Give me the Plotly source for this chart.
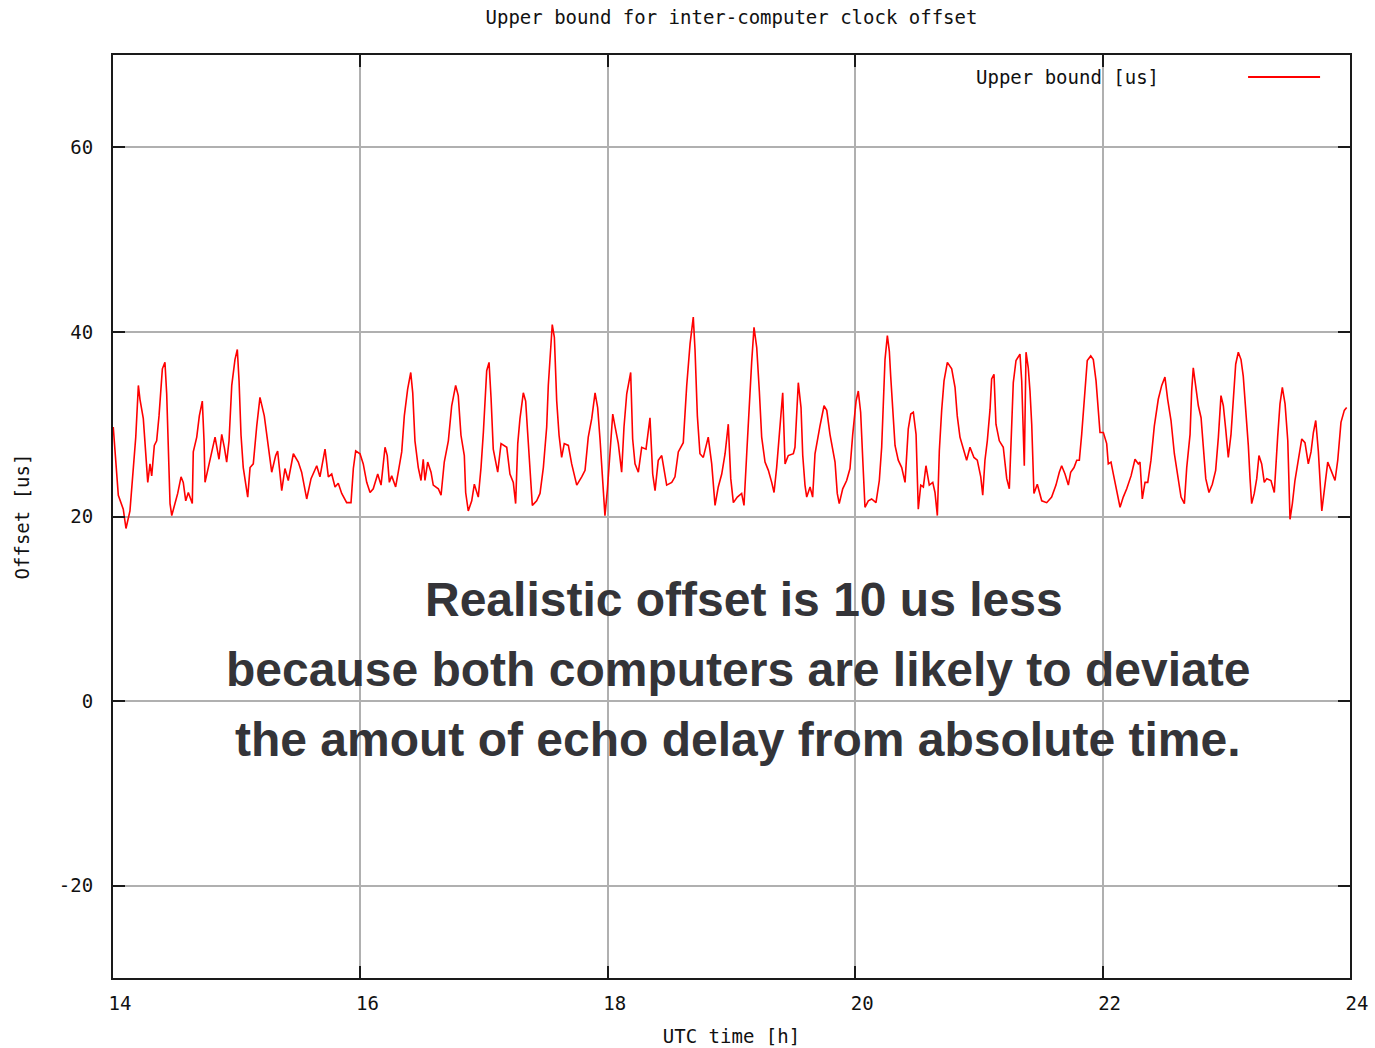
import plotly.graph_objects as go

# UTC time [h] and upper bound [us]
hours = [
    14.002, 14.030, 14.043, 14.083, 14.105, 14.137, 14.164, 14.184, 14.205, 14.218,
    14.245, 14.259, 14.281, 14.299, 14.313, 14.334, 14.353, 14.372, 14.399, 14.420,
    14.434, 14.461, 14.475, 14.501, 14.523, 14.550, 14.568, 14.588, 14.609, 14.641,
    14.649, 14.677, 14.698, 14.722, 14.736, 14.744, 14.770, 14.792, 14.825, 14.857,
    14.879, 14.900, 14.919, 14.938, 14.960, 14.986, 15.005, 15.019, 15.035, 15.053,
    15.073, 15.089, 15.108, 15.134, 15.162, 15.188, 15.223, 15.251, 15.283, 15.315,
    15.331, 15.364, 15.390, 15.417, 15.458, 15.498, 15.525, 15.566, 15.601, 15.647,
    15.673, 15.714, 15.741, 15.768, 15.795, 15.821, 15.849, 15.889, 15.924, 15.943,
    15.962,
    15.997, 16.023, 16.051, 16.078, 16.104, 16.140, 16.167, 16.199, 16.217, 16.234,
    16.253, 16.285, 16.306, 16.334, 16.355, 16.382, 16.407, 16.423, 16.441, 16.468,
    16.490, 16.508, 16.522, 16.544, 16.571, 16.589, 16.630, 16.652, 16.678, 16.711,
    16.738, 16.770, 16.791, 16.813, 16.840, 16.851, 16.872, 16.900, 16.921, 16.953,
    16.975, 16.994, 17.021, 17.040, 17.056, 17.074, 17.110, 17.137, 17.183, 17.209,
    17.236, 17.255, 17.272, 17.290, 17.317, 17.336, 17.352, 17.371, 17.390, 17.425,
    17.452, 17.479, 17.506, 17.519, 17.541, 17.551, 17.568, 17.587, 17.606, 17.627,
    17.648, 17.681, 17.708, 17.749, 17.789, 17.816, 17.842, 17.870, 17.897, 17.918,
    17.937, 17.959, 17.977, 17.996, 18.018, 18.040, 18.058, 18.085, 18.112, 18.131,
    18.153, 18.185, 18.201, 18.220, 18.247, 18.274, 18.309, 18.341, 18.363, 18.382,
    18.408, 18.436, 18.476, 18.517, 18.543, 18.570, 18.610, 18.638, 18.665, 18.691,
    18.705, 18.724, 18.745, 18.772, 18.812, 18.840, 18.867, 18.893, 18.921, 18.948,
    18.974, 18.994, 19.015, 19.047, 19.082, 19.101, 19.123, 19.141, 19.163, 19.182,
    19.204, 19.225, 19.244, 19.271, 19.298, 19.325, 19.344, 19.365, 19.392, 19.414,
    19.433, 19.459, 19.500, 19.513, 19.540, 19.562, 19.576, 19.594, 19.608, 19.635,
    19.656, 19.675, 19.715, 19.748, 19.770, 19.796, 19.837, 19.855, 19.871, 19.899,
    19.931,
    19.958, 19.980, 20.007, 20.025, 20.044, 20.061, 20.079, 20.106, 20.133, 20.168,
    20.195, 20.214, 20.227, 20.241, 20.260, 20.276, 20.287, 20.303, 20.322, 20.348,
    20.376, 20.403, 20.429, 20.449, 20.470, 20.492, 20.510, 20.530, 20.551, 20.572,
    20.599, 20.627, 20.645, 20.664, 20.680, 20.699, 20.718, 20.745, 20.780, 20.807,
    20.825, 20.847, 20.874, 20.901, 20.928, 20.960, 20.987, 21.015, 21.031, 21.049,
    21.068, 21.090, 21.103, 21.122, 21.138, 21.165, 21.197, 21.225, 21.246, 21.265,
    21.278, 21.300, 21.332, 21.346, 21.359, 21.367, 21.381, 21.399, 21.413, 21.427,
    21.445, 21.472, 21.508, 21.548, 21.588, 21.623, 21.650, 21.669, 21.696, 21.723,
    21.742, 21.769, 21.791, 21.812, 21.831, 21.858, 21.876, 21.904, 21.925, 21.947,
    21.979, 22.006, 22.033, 22.046, 22.068, 22.087, 22.114, 22.141, 22.167, 22.195,
    22.230, 22.262, 22.289, 22.302, 22.321, 22.343, 22.365, 22.391, 22.418, 22.450,
    22.478, 22.504, 22.526, 22.553, 22.580, 22.612, 22.634, 22.661, 22.680, 22.707,
    22.720, 22.733, 22.753, 22.774, 22.796, 22.814, 22.834, 22.860, 22.887, 22.914,
    22.936, 22.957, 22.976, 22.995, 23.016, 23.038, 23.057, 23.076, 23.097, 23.119,
    23.137, 23.157, 23.178, 23.192, 23.205, 23.226, 23.246, 23.264, 23.286, 23.307,
    23.327, 23.361, 23.388, 23.415, 23.434, 23.453, 23.475, 23.497, 23.507, 23.515,
    23.534, 23.555, 23.582, 23.610, 23.636, 23.663, 23.685, 23.704, 23.723, 23.744,
    23.772, 23.793, 23.820, 23.847, 23.879, 23.901, 23.927, 23.954, 23.973,
]

upper_bound = [
    29.7, 25.3, 22.3, 20.8, 18.7, 20.6, 25.2, 28.6, 34.2, 32.7,
    30.6, 27.9, 23.7, 25.7, 24.4, 27.7, 28.2, 30.9, 36.0, 36.7,
    33.3, 21.4, 20.1, 21.4, 22.5, 24.3, 23.7, 21.7, 22.6, 21.4,
    27.0, 28.6, 30.9, 32.5, 28.2, 23.7, 25.3, 26.8, 28.6, 26.2,
    28.9, 27.5, 25.9, 28.2, 34.2, 37.0, 38.1, 34.7, 28.8, 25.3,
    23.4, 22.1, 25.3, 25.7, 29.8, 32.9, 30.9, 27.9, 24.8, 26.6,
    27.1, 22.8, 25.2, 23.9, 26.8, 25.9, 24.8, 21.9, 24.1, 25.5,
    24.3, 27.3, 24.3, 24.6, 23.2, 23.6, 22.5, 21.5, 21.5, 25.2,
    27.1,
    26.8, 25.7, 23.7, 22.6, 23.0, 24.6, 23.4, 27.5, 26.6, 23.7,
    24.4, 23.2, 24.8, 27.0, 30.9, 33.8, 35.6, 33.4, 28.2, 25.3,
    23.9, 26.2, 23.9, 25.9, 24.8, 23.4, 23.0, 22.3, 25.9, 28.2,
    32.0, 34.2, 33.1, 28.8, 26.6, 22.6, 20.6, 21.7, 23.5, 22.1,
    25.3, 29.1, 35.8, 36.7, 32.9, 27.3, 24.8, 27.9, 27.5, 24.6,
    23.7, 21.4, 27.9, 30.6, 33.4, 32.5, 29.1, 24.4, 21.2, 21.7,
    22.5, 25.3, 29.7, 34.2, 38.8, 40.8, 39.4, 32.5, 28.8, 26.4,
    27.9, 27.7, 25.7, 23.4, 24.3, 25.0, 28.6, 30.6, 33.4, 31.8,
    28.4, 23.7, 20.1, 22.8, 26.6, 31.1, 29.8, 27.9, 24.8, 29.7,
    33.3, 35.6, 28.4, 25.7, 24.8, 27.5, 27.3, 30.7, 24.6, 22.8,
    26.1, 26.6, 23.4, 23.7, 24.3, 27.0, 28.0, 34.2, 38.7, 41.6,
    38.1, 30.9, 26.8, 26.4, 28.6, 25.7, 21.2, 23.2, 24.6, 26.8,
    30.0, 24.1, 21.5, 22.1, 22.5, 21.2, 26.8, 31.6, 36.7, 40.5,
    38.3, 33.6, 28.6, 25.9, 25.0, 23.7, 22.6, 25.3, 29.7, 33.4,
    25.7, 26.6, 26.8, 27.5, 34.5, 31.8, 26.6, 23.4, 22.1, 23.2,
    22.1, 26.8, 29.8, 32.0, 31.5, 28.9, 25.9, 22.5, 21.4, 23.0,
    23.9,
    25.2, 28.9, 32.5, 33.6, 31.3, 26.2, 21.0, 21.7, 21.9, 21.5,
    23.9, 27.5, 32.0, 37.0, 39.6, 37.9, 35.2, 31.5, 27.7, 26.1,
    25.3, 23.7, 29.5, 31.1, 31.3, 28.9, 20.8, 23.4, 23.2, 25.5,
    23.4, 23.7, 22.6, 20.1, 27.1, 31.5, 34.7, 36.7, 36.0, 34.0,
    30.9, 28.6, 27.3, 26.1, 27.5, 26.4, 26.1, 24.3, 22.3, 26.1,
    28.2, 31.6, 34.9, 35.4, 30.0, 28.2, 27.5, 24.1, 23.0, 30.7,
    34.5, 36.9, 37.6, 34.7, 29.7, 25.5, 37.8, 36.1, 33.6, 30.0,
    22.5, 23.5, 21.7, 21.5, 22.1, 23.4, 24.8, 25.5, 24.6, 23.4,
    24.8, 25.3, 26.1, 26.1, 28.9, 34.2, 36.9, 37.4, 37.0, 34.7,
    29.1, 29.1, 27.9, 25.7, 25.9, 24.6, 22.8, 21.0, 22.1, 23.0,
    24.4, 26.2, 25.7, 25.9, 21.9, 23.7, 23.7, 26.1, 29.8, 32.7,
    34.2, 35.1, 32.7, 30.4, 26.8, 23.7, 22.1, 21.4, 25.3, 28.9,
    33.6, 36.1, 34.0, 32.0, 30.7, 27.7, 24.1, 22.6, 23.5, 25.0,
    28.6, 33.1, 32.0, 29.5, 26.4, 28.9, 32.9, 36.5, 37.8, 37.0,
    35.2, 31.6, 27.7, 24.1, 21.4, 22.5, 24.1, 26.6, 25.7, 23.7,
    24.1, 23.9, 22.6, 28.6, 32.2, 34.0, 32.2, 28.2, 22.5, 19.7,
    21.4, 23.9, 26.1, 28.4, 28.0, 25.7, 27.0, 29.1, 30.4, 27.1,
    20.6, 22.8, 25.9, 25.0, 23.9, 26.1, 30.2, 31.5, 31.8,
]

x_ticks = [14, 16, 18, 20, 22, 24]
x_tick_labels = ["14", "16", "18", "20", "22", "24"]
y_ticks = [-20, 0, 20, 40, 60]
y_tick_labels = ["-20", "0", "20", "40", "60"]

title_text = "Upper bound for inter-computer clock offset"
series_name = "Upper bound [us]"
x_title = "UTC time [h]"
y_title = "Offset [us]"
note_lines = [
    "Realistic offset is 10 us less",
    "because both computers are likely to deviate",
    "the amout of echo delay from absolute time.",
]
note_x = [19.10, 19.05, 19.05]
note_y = [11.0, 3.4, -4.2]

MONO = "DejaVu Sans Mono"
FS = 19

fig = go.Figure()
fig.add_trace(go.Scatter(
    x=hours, y=upper_bound, mode="lines", name=series_name,
    line=dict(color="#ff0000", width=1.6), showlegend=False,
))

axis_common = dict(
    showgrid=True, gridcolor="#b0b0b0", gridwidth=2,
    showline=True, linecolor="#1a1a1a", linewidth=2, mirror="ticks",
    ticks="inside", ticklen=12, tickcolor="#1a1a1a", tickwidth=2,
    zeroline=False, automargin=False,
    tickfont=dict(family=MONO, size=FS, color="#111111"),
)

fig.update_xaxes(
    range=[14, 24], tickvals=x_ticks, ticktext=x_tick_labels,
    title=dict(text=x_title, font=dict(family=MONO, size=FS, color="#111111"), standoff=17),
    ticklabelstandoff=7, ticklabelshift=7,
    **axis_common,
)
fig.update_yaxes(
    range=[-30, 70], tickvals=y_ticks, ticktext=y_tick_labels,
    title=dict(text=y_title, font=dict(family=MONO, size=FS, color="#111111"), standoff=24),
    ticklabelstandoff=14,
    **axis_common,
)

# gnuplot-style key: text on the left, line sample on the right
fig.add_annotation(
    xref="paper", yref="paper", x=0.847, y=0.976, xanchor="right", yanchor="middle",
    text=series_name, showarrow=False,
    font=dict(family=MONO, size=FS, color="#111111"),
)
fig.add_shape(
    type="line", xref="paper", yref="paper", x0=0.9176, x1=0.9758, y0=0.9762, y1=0.9762,
    line=dict(color="#ff0000", width=2),
)

for line, xv, yv in zip(note_lines, note_x, note_y):
    fig.add_annotation(
        x=xv, y=yv, text="<b>%s</b>" % line, showarrow=False,
        xanchor="center", yanchor="middle",
        font=dict(family="Liberation Sans", size=48, color="#343438"),
    )

fig.update_layout(
    width=1375, height=1048,
    margin=dict(l=113, r=25, t=55, b=70),
    paper_bgcolor="white", plot_bgcolor="white",
    title=dict(text=title_text, x=0.532, xanchor="center", y=0.983, yanchor="middle",
               font=dict(family=MONO, size=FS, color="#111111")),
)

fig.write_html("out.html")
